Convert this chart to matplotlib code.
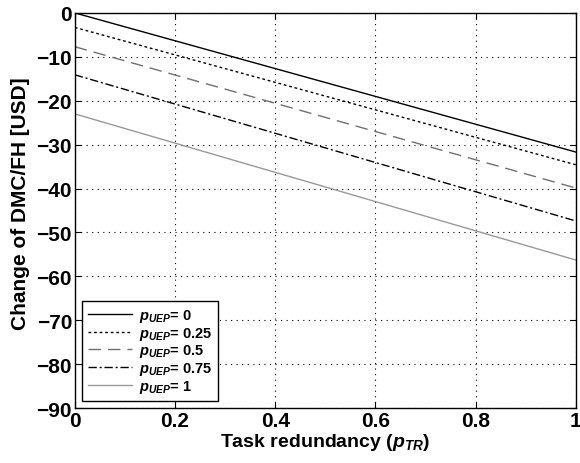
import matplotlib
matplotlib.use("Agg")
import matplotlib.pyplot as plt

plt.rcParams['font.family'] = 'Liberation Sans'
plt.rcParams['font.weight'] = 'bold'
plt.rcParams['axes.labelweight'] = 'bold'
plt.rcParams['mathtext.fontset'] = 'custom'
plt.rcParams['mathtext.it'] = 'Liberation Sans:italic:bold'
plt.rcParams['mathtext.rm'] = 'Liberation Sans:bold'

# task redundancy endpoints and DMC/FH change for each p_UEP
x_vals = [0, 1]
p_labels = ['0', '0.25', '0.5', '0.75', '1']
y_p0 = [0, -31.7]
y_p025 = [-3.3, -34.6]
y_p05 = [-7.7, -39.9]
y_p075 = [-14.1, -47.4]
y_p1 = [-23.0, -56.3]

fig = plt.figure(figsize=(5.8, 4.64), dpi=100)
ax = fig.add_axes([0.129, 0.1185, 0.864, 0.8515])

styles = [('black', '-'), ('black', (0, (2, 2))), ('#707070', (0, (9, 5))),
          ('black', (0, (6, 2, 1.5, 2))), ('#999999', '-')]
for ys, lab, (c, ls) in zip([y_p0, y_p025, y_p05, y_p075, y_p1], p_labels, styles):
    ax.plot(x_vals, ys, color=c, linestyle=ls, linewidth=1.0,
            label=r'$p_{UEP}$= ' + lab)

ax.set_xlim(0, 1)
ax.set_ylim(-90, 0)
ax.set_xticks([0, 0.2, 0.4, 0.6, 0.8, 1])
ax.set_xticklabels(['0', '0.2', '0.4', '0.6', '0.8', '1'])
ax.set_yticks(range(-90, 1, 10))
ax.grid(True, color='black', linestyle=(0, (1, 4)), linewidth=0.8)
ax.tick_params(direction='in', labelsize=15, length=4, top=True, right=True, pad=2)
for s in ax.spines.values():
    s.set_linewidth(1.0)

ax.set_xlabel(r'Task redundancy ($p_{TR}$)', fontsize=14, labelpad=1)
ax.set_ylabel('Change of DMC/FH [USD]', fontsize=15)
ax.yaxis.set_label_coords(-0.09, 0.52)

leg = ax.legend(loc='lower left', fontsize=10.5, fancybox=False, framealpha=1,
                edgecolor='black', handlelength=3.0, borderaxespad=0.5,
                labelspacing=0.05, handletextpad=0.5)
leg.get_frame().set_linewidth(1.0)

fig.savefig('out.png', dpi=100)
